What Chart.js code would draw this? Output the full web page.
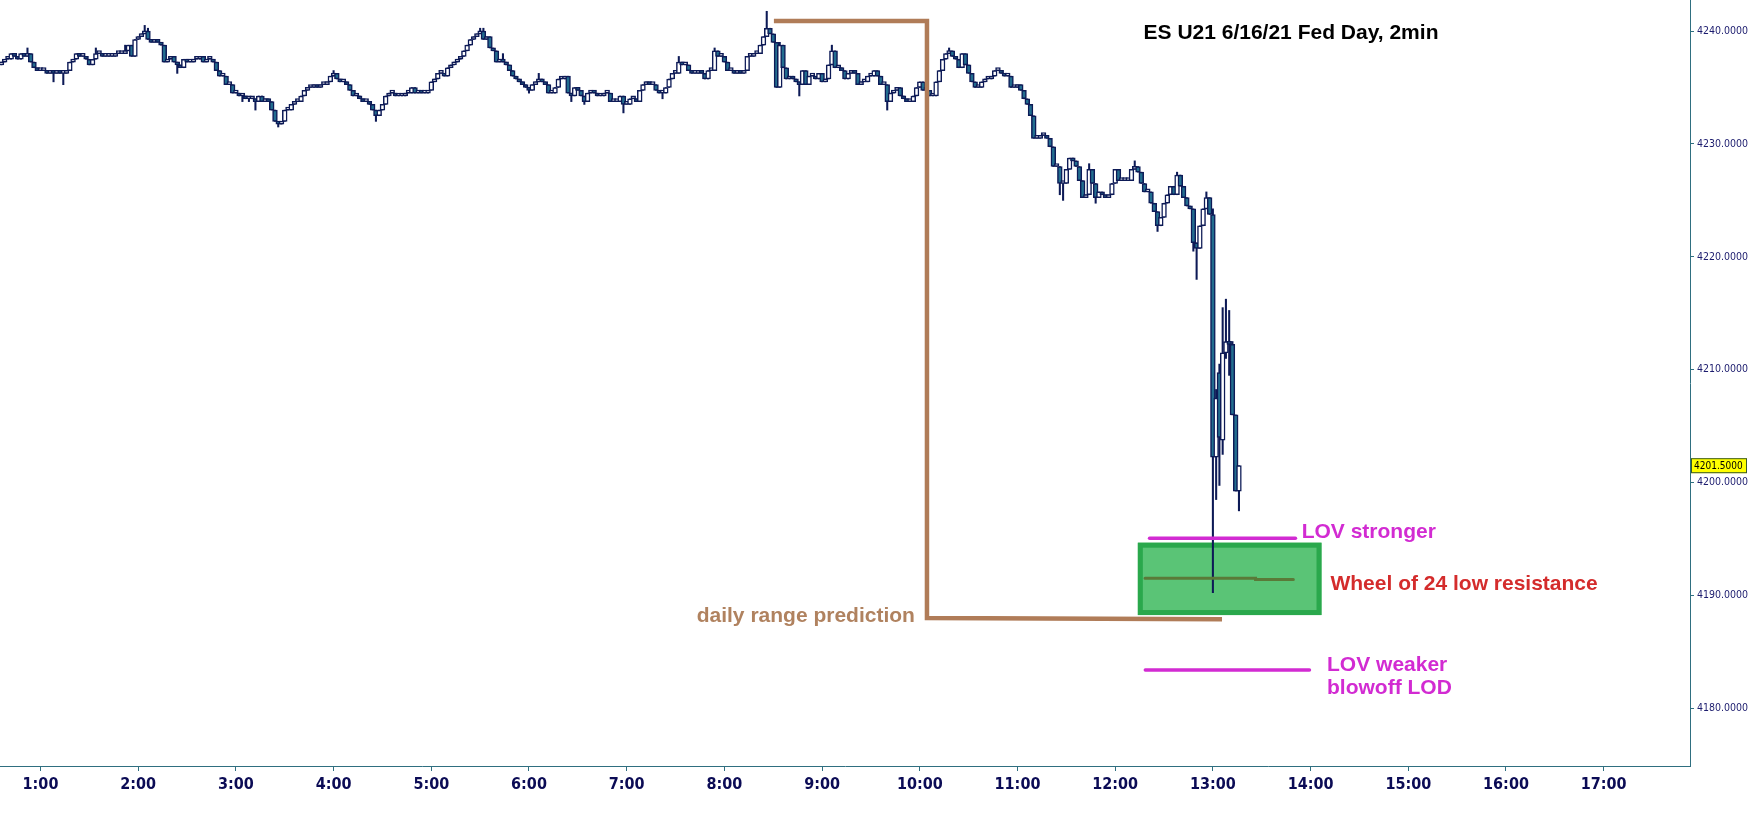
<!DOCTYPE html>
<html>
<head>
<meta charset="utf-8">
<script src="https://cdn.jsdelivr.net/npm/chart.js@4.4.1/dist/chart.umd.min.js"></script>
<style>
  html, body { margin: 0; padding: 0; background: #fff; overflow: hidden; }
  #wrap { position: relative; width: 1764px; height: 823px; }
</style>
</head>
<body>
<div id="wrap"><canvas id="chart"></canvas></div>
<script>
// ---------- Data (ES U21, 2 min bars, chart time) ----------
const startMinute = 36;      // first bar at 0:36
const barMinutes = 2;
const firstOpen = 4237.0;

// closes, bar by bar (open = previous close unless listed in gapOpens)
const closes = [
  4237.25,4237.5,4237.5,4238,4237.75,4237.5,4238,4237.75,4238,4237.25,
  4236.75,4236.5,4236.5,4236.5,4236.25,4236.5,4236.25,4236.5,4236.25,4236.25,
  4236.5,4237.25,4237.5,4238,4237.75,4237.75,4237.5,4237,4237.5,4238,
  4238,4237.75,4237.75,4237.75,4237.75,4238,4238,4238,4238.25,4238.75,
  4237.75,4239.25,4239.5,4239.75,4240,4239.25,4239,4239.25,4239,4238.75,
  4237.25,4237.5,4237.75,4237.25,4237,4236.75,4237.5,4237.25,4237.25,4237.5,
  4237.5,4237.75,4237.25,4237.5,4237.5,4237.25,4236.5,4236,4236,4235.25,
  4235.25,4234.5,4234.5,4234.25,4234.25,4234,4234,4234,4233.75,4234.25,
  4233.75,4234,4233.75,4233,4232,4231.75,4232,4233,4233,4233.5,
  4233.75,4233.75,4234.25,4234.75,4235,4235,4235.25,4235,4235.25,4235.25,
  4235.5,4236,4236.25,4235.75,4235.5,4235.5,4235.25,4234.75,4234.25,4234.25,
  4234,4233.75,4233.75,4233.5,4233,4232.5,4233,4233.5,4234.25,4234.5,
  4234.5,4234.25,4234.25,4234.25,4234.5,4234.5,4235,4234.5,4234.75,4234.5,
  4234.5,4234.75,4235.5,4235.75,4236.25,4236.25,4236,4236.75,4237,4237.25,
  4237.5,4237.75,4238.25,4238.75,4239.25,4239.5,4239.75,4240,4239.25,4239.5,
  4238.5,4238.25,4237.25,4237.5,4237.25,4237,4236.5,4236,4235.75,4235.5,
  4235.25,4235,4234.75,4235.25,4235.5,4235.75,4235.5,4235.25,4234.5,4234.5,
  4235,4235.75,4235.75,4236,4234.5,4234.25,4235,4234.75,4234.25,4233.75,
  4234.5,4234.75,4234.5,4234.25,4234.25,4234.5,4234.5,4233.75,4233.75,4233.75,
  4234.25,4233.5,4233.5,4234,4234,4233.75,4234.75,4235.25,4235.5,4235.25,
  4235.25,4234.75,4234.5,4234.5,4235,4235.75,4236.25,4236.25,4237.25,4237,
  4237,4236.5,4236.25,4236.25,4236.5,4236.25,4235.75,4236.5,4236.5,4238.25,
  4237.75,4237.75,4237.25,4236.5,4236.5,4236.25,4236.5,4236.25,4236.5,4237.75,
  4237.75,4238,4238,4238.75,4239.5,4240.25,4239.75,4239,4235,4238.75,
  4236.75,4235.75,4236,4235.75,4235.5,4235.25,4236.5,4235.25,4236,4236,
  4235.75,4236.25,4235.5,4235.75,4237,4238.25,4236.75,4236.75,4236.5,4235.75,
  4236.25,4236.5,4236.25,4235.25,4235.5,4235.5,4236,4236,4236.5,4236,
  4235.25,4235.25,4233.75,4234.5,4234.75,4235,4234.25,4234,4233.75,4233.75,
  4234.25,4235,4235.5,4234.75,4234.75,4234.25,4234.25,4235.5,4236.5,4237.5,
  4238,4238.25,4237.75,4237.5,4236.75,4238,4237,4236.25,4235.5,4235,
  4235,4235.5,4235.75,4235.75,4236,4236.5,4236.5,4236.25,4236,4236,
  4235,4235,4235.25,4234.75,4234,4233.5,4232.5,4230.5,4230.5,4230.75,
  4230.75,4230.5,4229.75,4228,4228,4226.5,4226.5,4227.75,4228.75,4228.5,
  4228,4226.75,4225.25,4225.5,4227.75,4226.5,4225.25,4225.75,4225.5,4225.25,
  4225.5,4226.5,4227.75,4226.75,4226.75,4226.75,4226.75,4227.75,4228,4227.5,
  4226.5,4225.75,4225.75,4224.75,4224,4222.75,4223.5,4224.75,4225.5,4226.25,
  4225.5,4227.25,4226.25,4225.25,4224.5,4224.25,4221.25,4220.75,4222.75,4224.25,
  4225.25,4223.75,4202.25,4207.5,4204,4211.5,4212.5,4212.25,4206,4199.25,
  4201.5
];
const gapOpens = [[374, 4209.75], [375, 4203.75], [377, 4212.5]];
const wickHighs = [
  [8,4238.5],[29,4238.5],[38,4238.75],[44,4240.5],[45,4240.25],[102,4236.5],
  [147,4240.25],[148,4240.25],[154,4238],[165,4236.25],[208,4237.75],[219,4238.5],
  [235,4241.75],[239,4239],[255,4238.75],[291,4238.5],[334,4228.25],[348,4228.5],
  [361,4227.5],[370,4225.75],[372,4224.25],[373,4208.25],[374,4210.5],[375,4215.5],
  [376,4216.25],[377,4215.25],[378,4212.5]
];
const wickLows = [
  [16,4235.5],[19,4235.25],[54,4236.25],[74,4233.75],[76,4233.75],[78,4233],
  [85,4231.5],[115,4232],[162,4234.5],[175,4233.75],[179,4233.5],[191,4232.75],
  [203,4234],[245,4234.25],[272,4233],[325,4225.5],[326,4225],[336,4224.75],
  [355,4222.25],[366,4220.5],[367,4218],[372,4190.25],[373,4198.5],[374,4199.75],
  [375,4202.5],[376,4211],[377,4209.5],[380,4197.5]
];

const hourTicks = [60,120,180,240,300,360,420,480,540,600,660,720,780,840,900,960,1020];
const priceTicks = [4180,4190,4200,4210,4220,4230,4240];
const lastPrice = 4201.5;

// drawn annotations, [minute, price]
const rangeLine = [[510.4,4240.9],[604.4,4240.9],[604.4,4188.0],[785.6,4187.9]];
const lovStrongLine = [[741.1,4195.07],[830.7,4195.07]];
const lovWeakLine = [[738.5,4183.4],[839.3,4183.4]];
const wheelLine = [[738.3,4191.52],[806.2,4191.52],[806.2,4191.43],[829.4,4191.43]];
const zoneX = [733.9, 846.7];
const zoneY = [4188.27, 4194.68];

// [text, minute, price, colour, align]
const notes = [
  ['ES U21 6/16/21 Fed Day, 2min', 737.4, 4239.82, '#000000', 'left'],
  ['LOV stronger', 834.5, 4195.6, '#d22bd2', 'left'],
  ['Wheel of 24 low resistance', 852.2, 4191.02, '#d42c2c', 'left'],
  ['daily range prediction', 597.0, 4188.14, '#b0825f', 'right'],
  ['LOV weaker', 850.1, 4183.84, '#d22bd2', 'left'],
  ['blowoff LOD', 850.1, 4181.78, '#d22bd2', 'left']
];

// ---------- Build candles ----------
const navy = '#0d1a56';
const teal = '#226d8f';
const axisColor = '#2f6f80';

const bars = closes.map((c, i) => {
  const gap = gapOpens.find(g => g[0] === i);
  const o = gap ? gap[1] : (i === 0 ? firstOpen : closes[i - 1]);
  const wh = wickHighs.find(w => w[0] === i);
  const wl = wickLows.find(w => w[0] === i);
  return {
    t: startMinute + i * barMinutes,
    o: o, c: c,
    h: Math.max(o, c, wh ? wh[1] : -Infinity),
    l: Math.min(o, c, wl ? wl[1] : Infinity)
  };
});

function lineSet(points, color, width, cap) {
  return {
    type: 'line',
    data: points.map(p => ({ x: p[0], y: p[1] })),
    borderColor: color,
    borderWidth: width,
    borderCapStyle: cap || 'butt',
    borderJoinStyle: 'miter',
    pointRadius: 0,
    fill: false,
    tension: 0,
    order: 0
  };
}

// ---------- Annotation plugin ----------
const annotate = {
  id: 'annotate',
  beforeDatasetsDraw(chart) {
    const { ctx, scales: { x, y } } = chart;
    const x0 = x.getPixelForValue(zoneX[0]), x1 = x.getPixelForValue(zoneX[1]);
    const yTop = y.getPixelForValue(zoneY[1]), yBot = y.getPixelForValue(zoneY[0]);
    ctx.save();
    ctx.fillStyle = '#5ac476';
    ctx.fillRect(x0, yTop, x1 - x0, yBot - yTop);
    ctx.lineWidth = 5;
    ctx.strokeStyle = '#2aa84c';
    ctx.strokeRect(x0 + 2.5, yTop + 2.5, x1 - x0 - 5, yBot - yTop - 5);
    ctx.restore();
  },
  afterDraw(chart) {
    const { ctx, scales: { x, y } } = chart;
    ctx.save();
    ctx.font = 'bold 21px "Liberation Sans", Arial, sans-serif';
    ctx.textBaseline = 'middle';
    notes.forEach(n => {
      ctx.fillStyle = n[3];
      ctx.textAlign = n[4];
      ctx.fillText(n[0], x.getPixelForValue(n[1]), y.getPixelForValue(n[2]));
    });
    // last price tag
    const py = y.getPixelForValue(lastPrice);
    const left = y.left + 1;
    ctx.fillStyle = '#ffff00';
    ctx.fillRect(left, py - 7.5, 56, 15);
    ctx.lineWidth = 1;
    ctx.strokeStyle = '#3a5a2a';
    ctx.strokeRect(left + 0.5, py - 7, 55, 14);
    ctx.fillStyle = '#000000';
    ctx.textAlign = 'left';
    ctx.font = '10px "DejaVu Sans Condensed", "DejaVu Sans", sans-serif';
    ctx.fillText(lastPrice.toFixed(4), left + 3, py + 0.5);
    ctx.restore();
  }
};

// ---------- Chart ----------
new Chart(document.getElementById('chart'), {
  type: 'bar',
  data: {
    datasets: [
      {
        label: 'wick',
        data: bars.map(b => ({ x: b.t, y: [b.l, b.h] })),
        backgroundColor: navy,
        barThickness: 1.4,
        minBarLength: 1,
        grouped: false,
        order: 3
      },
      {
        label: 'body',
        data: bars.map(b => ({ x: b.t, y: [b.o, b.c] })),
        backgroundColor: bars.map(b => (b.c >= b.o ? '#ffffff' : teal)),
        borderColor: navy,
        borderWidth: 1.5,
        borderSkipped: false,
        barThickness: 4.8,
        minBarLength: 3,
        grouped: false,
        order: 2
      },
      lineSet(rangeLine, '#b07c58', 4.5),
      lineSet(lovStrongLine, '#d22bd2', 3.5, 'round'),
      lineSet(lovWeakLine, '#d22bd2', 3.5, 'round'),
      lineSet(wheelLine, '#5a7a38', 3, 'round')
    ]
  },
  options: {
    responsive: true,
    maintainAspectRatio: false,
    animation: false,
    layout: { padding: 0 },
    plugins: {
      legend: { display: false },
      tooltip: { enabled: false },
      title: { display: false }
    },
    scales: {
      x: {
        type: 'linear',
        min: 35.13,
        max: 1073,
        offset: false,
        afterBuildTicks: s => { s.ticks = hourTicks.map(v => ({ value: v })); },
        afterFit: s => { s.height = 57; s.paddingLeft = 0; s.paddingRight = 0; },
        grid: { offset: false, drawOnChartArea: false, tickLength: 5, color: axisColor },
        border: { color: axisColor, width: 1 },
        ticks: {
          callback: v => (v / 60) + ':00',
          color: '#0b0b55',
          font: { family: '"DejaVu Sans Condensed", "DejaVu Sans", sans-serif', size: 16, weight: 'bold' },
          padding: 4,
          maxRotation: 0,
          autoSkip: false
        }
      },
      y: {
        position: 'right',
        min: 4174.9,
        max: 4242.75,
        afterBuildTicks: s => { s.ticks = priceTicks.map(v => ({ value: v })); },
        afterFit: s => { s.width = 74; s.paddingTop = 0; s.paddingBottom = 0; },
        grid: { drawOnChartArea: false, tickLength: 4, color: axisColor },
        border: { color: axisColor, width: 1 },
        ticks: {
          callback: v => v.toFixed(4),
          color: '#1c1c6e',
          font: { family: '"DejaVu Sans Condensed", "DejaVu Sans", sans-serif', size: 10.5 },
          padding: 3
        }
      }
    }
  },
  plugins: [annotate]
});
</script>
</body>
</html>
